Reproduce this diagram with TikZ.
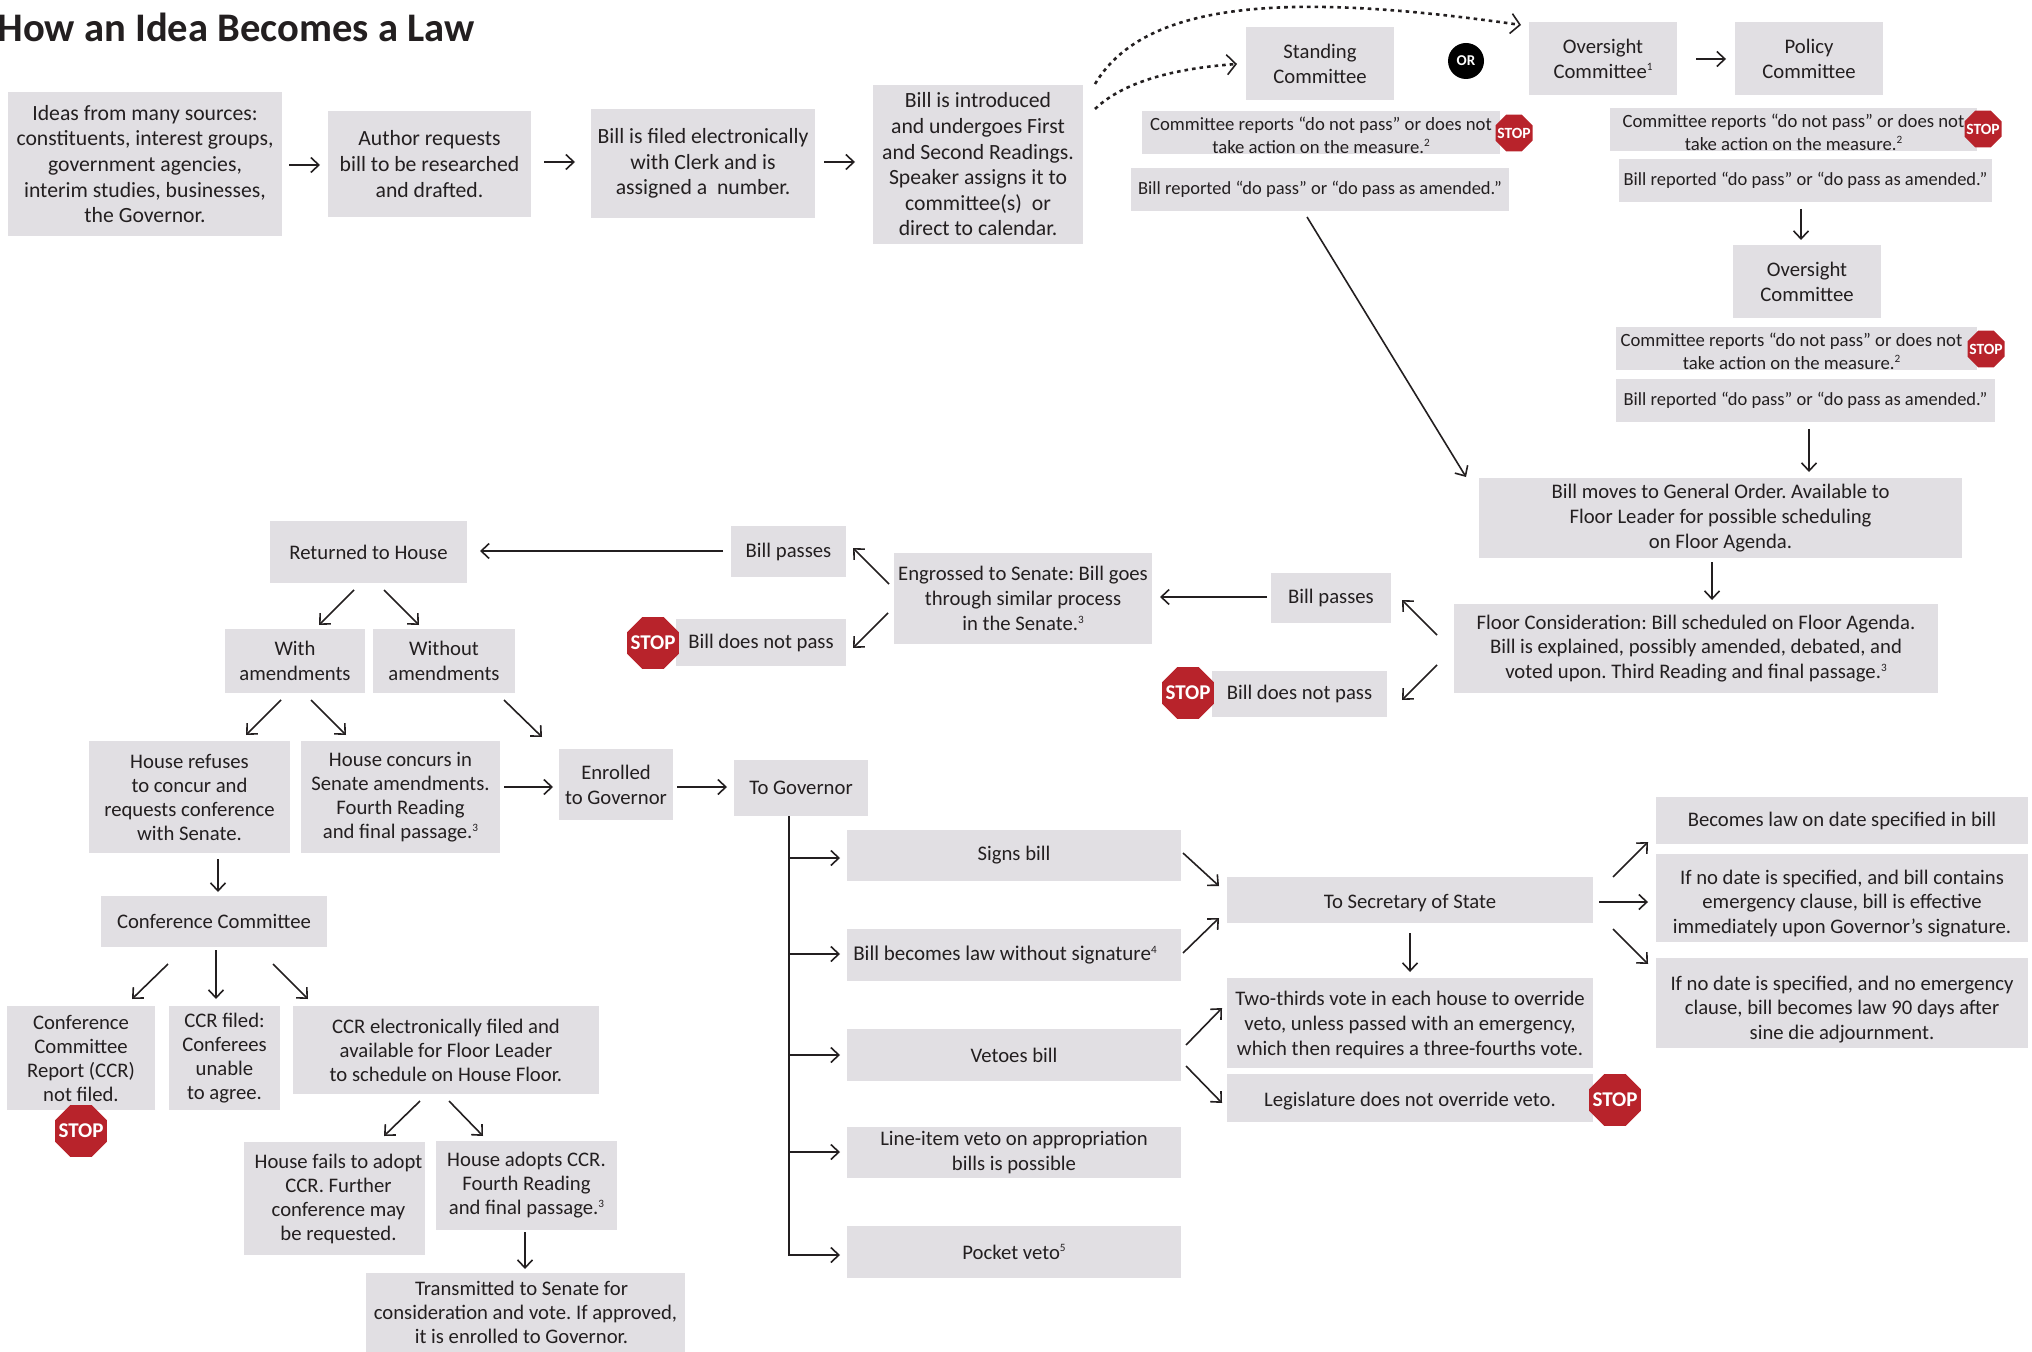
\documentclass[tikz,border=0pt]{standalone}
\usepackage{fontspec}
\setmainfont{Carlito}
\usetikzlibrary{arrows.meta,shapes.geometric}
\definecolor{boxgray}{HTML}{E1DFE3}
\definecolor{inkc}{HTML}{231F20}
\definecolor{stopred}{HTML}{B8232B}
\tikzset{
  box/.style={fill=boxgray,inner sep=0pt,align=center,text=inkc,font=\frenchspacing\fontsize{10.35}{12.45}\selectfont},
  smallbox/.style={font=\frenchspacing\fontsize{9.25}{11.4}\selectfont},
  crbox/.style={font=\frenchspacing\fontsize{9.35}{11.4}\selectfont},
  toprow/.style={font=\frenchspacing\fontsize{10.85}{12.8}\selectfont},
  tightbox/.style={font=\frenchspacing\fontsize{10.35}{12}\selectfont},
  arr/.style={draw=inkc,line width=0.8pt,-{Straight Barb[length=4pt,width=7.5pt,line width=0.8pt]}},
  dottedarr/.style={draw=inkc,line width=1.3pt,dash pattern=on 1.8pt off 2pt,-{Straight Barb[length=4.5pt,width=10pt,line width=0.8pt,sep=0pt]}},
  stopsign/.style={regular polygon,regular polygon sides=8,fill=stopred,inner sep=0pt},
  stoptext/.style={text=white,inner sep=0pt,font=\bfseries\fontsize{#1}{#1}\selectfont},
}
% box: options, name, x1, y1, x2, y2, text (reference pixels)
\newcommand\bx[7][]{%
  \pgfmathsetmacro\bxw{(#5-#3)/2}%
  \pgfmathsetmacro\bxh{(#6-#4)/2}%
  \pgfmathsetmacro\bxcx{(#3+#5)/2}%
  \pgfmathsetmacro\bxcy{(#4+#6)/2}%
  \expandafter\xdef\csname ncx#2\endcsname{\bxcx}%
  \expandafter\xdef\csname ncy#2\endcsname{\bxcy}%
  \node[box,#1,minimum width=\bxw pt,minimum height=\bxh pt] (#2) at (\bxcx,\bxcy) {#7};%
}
% connector from node to node, ends given as reference pixels, bound to the nodes
\newcommand\conn[7][--]{%
  \draw[arr] ([shift={({#4-\csname ncx#2\endcsname},{#5-\csname ncy#2\endcsname})}]#2.center) #1 ([shift={({#6-\csname ncx#3\endcsname},{#7-\csname ncy#3\endcsname})}]#3.center);%
}
\newcommand\dconn[7][--]{%
  \draw[dottedarr] ([shift={({#4-\csname ncx#2\endcsname},{#5-\csname ncy#2\endcsname})}]#2.center) #1 ([shift={({#6-\csname ncx#3\endcsname},{#7-\csname ncy#3\endcsname})}]#3.center);%
}
\newcommand\sq[1]{\raisebox{3.6pt}{\fontsize{5.6}{5.6}\selectfont #1}}
\newcommand\lift[1]{\rule{0pt}{#1pt}}
\begin{document}
\begin{tikzpicture}[x=0.5pt,y=-0.5pt]
\useasboundingbox (0,0) rectangle (2032,1352);
\node[anchor=west,inner sep=0pt,text=inkc,font=\bfseries\fontsize{20.3}{21}\selectfont] (title) at (-3,27) {How an Idea Becomes a Law};

\bx[toprow]{ideas}{8}{92}{282}{236}{Ideas from many sources:\\constituents, interest groups,\\government agencies,\\interim studies, businesses,\\the Governor.}
\bx[toprow]{author}{328}{111}{531}{217}{Author requests\\bill to be researched\\and drafted.}
\bx[toprow]{filed}{591}{109}{815}{218}{Bill is filed electronically\\with Clerk and is\\assigned a\ \ number.}
\bx[toprow]{intro}{873}{85}{1083}{244}{Bill is introduced\\and undergoes First\\and Second Readings.\\Speaker assigns it to\\committee(s)\ \ or\\direct to calendar.}
\bx{standing}{1246}{27}{1394}{100}{Standing\\Committee}
\bx[crbox]{crA}{1142}{111}{1500}{154}{\lift{9.7}Committee reports “do not pass” or does not\\take action on the measure.\sq{2}}
\bx[smallbox]{brA}{1131}{168}{1509}{211}{Bill reported “do pass” or “do pass as amended.”}
\node[circle,fill=black,inner sep=0pt,minimum size=18pt,text=white,font=\bfseries\fontsize{7.5}{7.5}\selectfont] (ornode) at (1466,61) {OR};
\bx{overA}{1529}{22}{1677}{95}{Oversight\\Committee\sq{1}}
\bx{policy}{1735}{22}{1883}{95}{Policy\\Committee}
\bx[crbox]{crB}{1610}{108}{1977}{151}{\lift{9.7}Committee reports “do not pass” or does not\\take action on the measure.\sq{2}}
\bx[smallbox]{brB}{1619}{159}{1992}{202}{Bill reported “do pass” or “do pass as amended.”}
\bx{overB}{1733}{245}{1881}{318}{Oversight\\Committee}
\bx[crbox]{crC}{1616}{327}{1977}{370}{\lift{9.7}Committee reports “do not pass” or does not\hspace*{5pt}\\take action on the measure.\sq{2}\hspace*{5pt}}
\bx[smallbox]{brC}{1616}{379}{1995}{422}{Bill reported “do pass” or “do pass as amended.”}
\bx{general}{1479}{478}{1962}{558}{Bill moves to General Order. Available to\\Floor Leader for possible scheduling\\on Floor Agenda.}
\bx{floor}{1454}{604}{1938}{693}{Floor Consideration: Bill scheduled on Floor Agenda.\\Bill is explained, possibly amended, debated, and\\voted upon. Third Reading and final passage.\sq{3}}
\bx{passR}{1271}{573}{1391}{623}{Bill passes}
\bx{failR}{1212}{671}{1387}{717}{Bill does not pass}
\bx{engrossed}{894}{553}{1152}{644}{Engrossed to Senate: Bill goes\\through similar process\\in the Senate.\sq{3}}
\bx{passL}{731}{526}{846}{577}{Bill passes}
\bx{failL}{676}{619}{846}{666}{Bill does not pass}
\bx{returned}{270}{521}{467}{583}{Returned to House}
\bx{with}{225}{629}{365}{693}{With\\amendments}
\bx{without}{373}{629}{515}{693}{Without\\amendments}
\bx[tightbox]{refuses}{89}{741}{290}{853}{House refuses\\to concur and\\requests conference\\with Senate.}
\bx[tightbox]{concurs}{301}{741}{500}{853}{House concurs in\\Senate amendments.\\Fourth Reading\\and final passage.\sq{3}}
\bx{enrolled}{559}{749}{673}{820}{Enrolled\\to Governor}
\bx{governor}{734}{760}{868}{816}{To Governor}
\bx{conf}{101}{896}{327}{947}{Conference Committee}
\bx[tightbox]{report}{7}{1006}{155}{1110}{Conference\\Committee\\Report (CCR)\\not filed.}
\bx[tightbox]{ccrfiled}{169}{1006}{280}{1110}{CCR filed:\\Conferees\\unable\\to agree.}
\bx[tightbox]{elec}{293}{1006}{599}{1094}{CCR electronically filed and\\available for Floor Leader\\to schedule on House Floor.}
\bx[tightbox]{fails}{244}{1142}{425}{1255}{\hspace*{4pt}House fails to adopt\\\hspace*{4pt}CCR. Further\\\hspace*{4pt}conference may\\\hspace*{4pt}be requested.}
\bx[tightbox]{adopts}{436}{1141}{617}{1230}{House adopts CCR.\\Fourth Reading\\and final passage.\sq{3}}
\bx[tightbox]{transmit}{366}{1273}{685}{1352}{Transmitted to Senate for\hspace*{4pt}\\consideration and vote. If approved,\hspace*{4pt}\\it is enrolled to Governor.\hspace*{4pt}}
\bx{signs}{847}{830}{1181}{881}{Signs bill}
\bx[font=\frenchspacing\fontsize{10.5}{12.45}\selectfont]{nosig}{847}{929}{1181}{981}{Bill becomes law without signature\sq{4}\hspace*{9pt}}
\bx{vetoes}{847}{1029}{1181}{1081}{Vetoes bill}
\bx{lineitem}{847}{1127}{1181}{1178}{Line-item veto on appropriation\\bills is possible}
\bx{pocket}{847}{1226}{1181}{1278}{Pocket veto\sq{5}}
\bx{sos}{1227}{877}{1593}{923}{\lift{10}To Secretary of State}
\bx{twothirds}{1227}{978}{1593}{1068}{\lift{9.5}Two-thirds vote in each house to override\\veto, unless passed with an emergency,\\which then requires a three-fourths vote.}
\bx{legis}{1227}{1074}{1593}{1122}{\lift{10.3}Legislature does not override veto.}
\bx{lawdate}{1656}{797}{2028}{844}{Becomes law on date specified in bill}
\bx{emerg}{1656}{854}{2028}{942}{\lift{12.7}If no date is specified, and bill contains\\emergency clause, bill is effective\\immediately upon Governor’s signature.}
\bx{ninety}{1656}{958}{2028}{1048}{\lift{13.7}If no date is specified, and no emergency\\clause, bill becomes law 90 days after\\sine die adjournment.}

\node[stopsign,minimum size=20pt,label={[stoptext=7.8]center:STOP}] (stopA) at (1514,133) {};
\node[stopsign,minimum size=20pt,label={[stoptext=7.8]center:STOP}] (stopB) at (1983,129) {};
\node[stopsign,minimum size=20pt,label={[stoptext=7.8]center:STOP}] (stopC) at (1986,349) {};
\node[stopsign,minimum size=28pt,label={[stoptext=10.5]center:STOP}] (stopD) at (1188,693) {};
\node[stopsign,minimum size=28pt,label={[stoptext=10.5]center:STOP}] (stopE) at (653,643) {};
\node[stopsign,minimum size=28pt,label={[stoptext=10.5]center:STOP}] (stopF) at (81,1131) {};
\node[stopsign,minimum size=28pt,label={[stoptext=10.5]center:STOP}] (stopG) at (1615,1100) {};

\conn{ideas}{author}{289}{165}{320}{165}
\conn{author}{filed}{544}{162}{575}{162}
\conn{filed}{intro}{824}{162}{855}{162}
\dconn[.. controls (1125,80) and (1180,68) ..]{intro}{standing}{1095}{109}{1237}{64}
\dconn[.. controls (1145,0) and (1290,-8) ..]{intro}{overA}{1095}{84}{1521}{25}
\conn{overA}{policy}{1696}{59}{1726}{59}
\conn{brB}{overB}{1801}{209}{1801}{240}
\conn{brC}{general}{1809}{429}{1809}{472}
\conn{brA}{general}{1307}{217}{1466}{477}
\conn{general}{floor}{1712}{562}{1712}{600}
\conn{floor}{passR}{1437}{635}{1402}{600}
\conn{floor}{failR}{1437}{665}{1402}{700}
\conn{passR}{engrossed}{1267}{597}{1160}{597}
\conn{engrossed}{passL}{889}{584}{853}{548}
\conn{engrossed}{failL}{888}{613}{853}{648}
\conn{passL}{returned}{723}{551}{480}{551}
\conn{returned}{with}{354}{590}{319}{625}
\conn{returned}{without}{384}{590}{419}{625}
\conn{with}{refuses}{281}{700}{246}{735}
\conn{with}{concurs}{311}{700}{346}{735}
\conn{without}{enrolled}{504}{700}{542}{737}
\conn{concurs}{enrolled}{504}{787}{553}{787}
\conn{enrolled}{governor}{677}{787}{727}{787}
\conn{refuses}{conf}{218}{859}{218}{892}
\conn{conf}{report}{168}{964}{132}{999}
\conn{conf}{ccrfiled}{216}{950}{216}{999}
\conn{conf}{elec}{273}{964}{308}{999}
\conn{elec}{fails}{420}{1101}{384}{1136}
\conn{elec}{adopts}{449}{1101}{483}{1136}
\conn{adopts}{transmit}{525}{1232}{525}{1269}
\conn[|-]{governor}{signs}{789}{816}{840}{858}
\conn[|-]{governor}{nosig}{789}{816}{840}{954}
\conn[|-]{governor}{vetoes}{789}{816}{840}{1055}
\conn[|-]{governor}{lineitem}{789}{816}{840}{1152}
\conn[|-]{governor}{pocket}{789}{816}{840}{1255}
\conn{signs}{sos}{1183}{853}{1219}{886}
\conn{nosig}{sos}{1183}{953}{1219}{918}
\conn{sos}{twothirds}{1410}{933}{1410}{972}
\conn{vetoes}{twothirds}{1186}{1045}{1222}{1008}
\conn{vetoes}{legis}{1186}{1066}{1222}{1103}
\conn{sos}{lawdate}{1613}{877}{1648}{842}
\conn{sos}{emerg}{1599}{902}{1648}{902}
\conn{sos}{ninety}{1613}{929}{1648}{964}
\end{tikzpicture}
\end{document}
